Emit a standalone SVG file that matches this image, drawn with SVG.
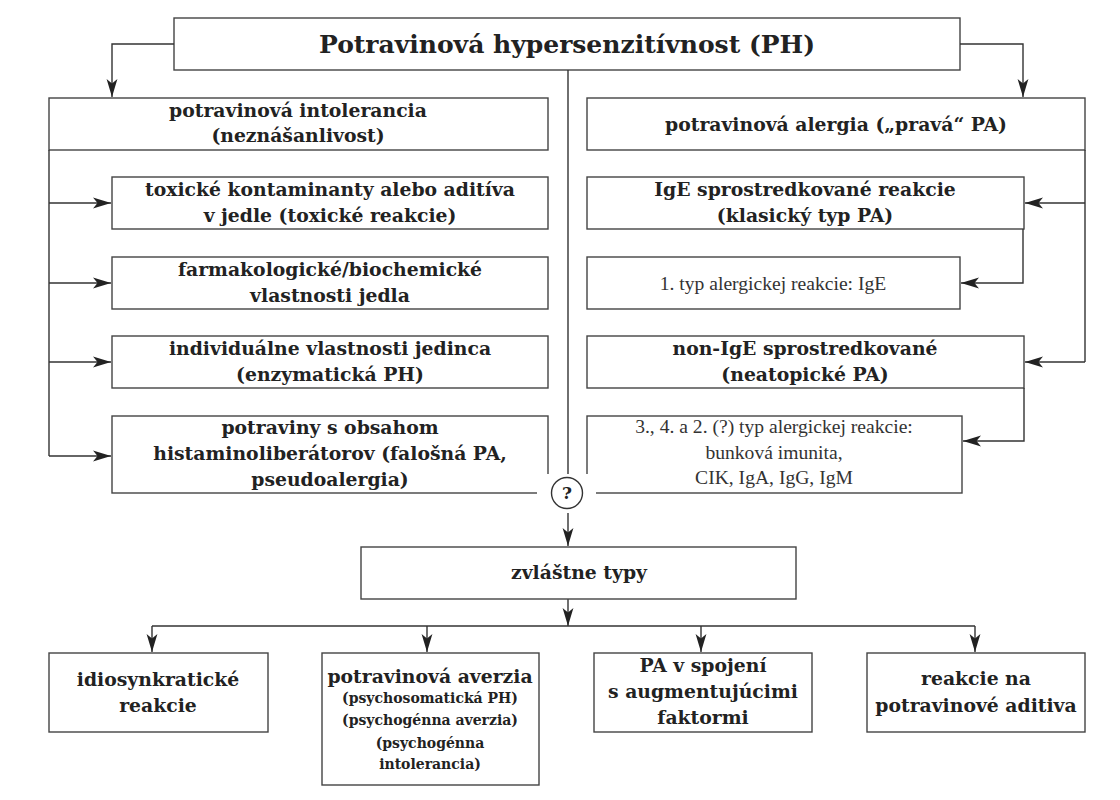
<svg xmlns="http://www.w3.org/2000/svg" width="1120" height="800" viewBox="0 0 1120 800">
<style>
.box{fill:#fff;stroke:#444;stroke-width:1.4}
.ln{fill:none;stroke:#333;stroke-width:1.4}
.b{font-family:"DejaVu Serif","Liberation Serif",serif;font-weight:bold;font-size:18.8px;fill:#222;text-anchor:middle}
.t{font-family:"DejaVu Serif","Liberation Serif",serif;font-weight:bold;font-size:25px;fill:#222;text-anchor:middle}
.s{font-family:"DejaVu Serif","Liberation Serif",serif;font-weight:bold;font-size:14px;fill:#222;text-anchor:middle}
.r{font-family:"Liberation Serif","DejaVu Serif",serif;font-size:19.6px;fill:#333;text-anchor:middle}
</style>
<defs>
<marker id="ah" markerUnits="userSpaceOnUse" markerWidth="19" markerHeight="12" refX="18" refY="6" orient="auto">
<path d="M0,0.6 L18,6 L0,11.4 L4.5,6 z" fill="#222"/>
</marker>
</defs>

<g id="n-root"><rect class="box" x="174" y="18" width="786" height="52"/><text class="t" x="567" y="53">Potravinová hypersenzitívnost (PH)</text></g>

<g id="n-intol"><rect class="box" x="49" y="98" width="499" height="52"/><text class="b" x="298" y="117">potravinová intolerancia</text><text class="b" x="298" y="142">(neznášanlivost)</text></g>
<g id="n-tox"><rect class="box" x="112" y="177" width="436" height="52"/><text class="b" x="330" y="196">toxické kontaminanty alebo aditíva</text><text class="b" x="330" y="222">v jedle (toxické reakcie)</text></g>
<g id="n-farm"><rect class="box" x="112" y="257" width="436" height="52"/><text class="b" x="330" y="276">farmakologické/biochemické</text><text class="b" x="330" y="302">vlastnosti jedla</text></g>
<g id="n-ind"><rect class="box" x="112" y="336" width="436" height="52"/><text class="b" x="330" y="355">individuálne vlastnosti jedinca</text><text class="b" x="330" y="381">(enzymatická PH)</text></g>
<g id="n-hist"><rect class="box" x="112" y="416" width="436" height="77"/><text class="b" x="330" y="434">potraviny s obsahom</text><text class="b" x="330" y="460">histaminoliberátorov (falošná PA,</text><text class="b" x="330" y="486">pseudoalergia)</text></g>

<g id="n-alerg"><rect class="box" x="587" y="98" width="498" height="52"/><text class="b" x="836" y="131">potravinová alergia („pravá“ PA)</text></g>
<g id="n-ige"><rect class="box" x="587" y="177" width="437" height="52"/><text class="b" x="805" y="196">IgE sprostredkované reakcie</text><text class="b" x="805" y="222">(klasický typ PA)</text></g>
<g id="n-typ1"><rect class="box" x="587" y="257" width="373" height="52"/><text class="r" x="773" y="290">1. typ alergickej reakcie: IgE</text></g>
<g id="n-nonige"><rect class="box" x="587" y="336" width="437" height="52"/><text class="b" x="805" y="355">non-IgE sprostredkované</text><text class="b" x="805" y="381">(neatopické PA)</text></g>
<g id="n-typ34"><rect class="box" x="587" y="416" width="375" height="77"/><text class="r" x="774" y="433">3., 4. a 2. (?) typ alergickej reakcie:</text><text class="r" x="774" y="459">bunková imunita,</text><text class="r" x="774" y="484">CIK, IgA, IgG, IgM</text></g>

<g id="connectors">
<path class="ln" d="M174,44 H112 V97" marker-end="url(#ah)"/>
<path class="ln" d="M960,44 H1023 V97" marker-end="url(#ah)"/>
<path class="ln" d="M568,70 V474"/>
<path class="ln" d="M49,150 V456"/>
<path class="ln" d="M49,203 H111" marker-end="url(#ah)"/>
<path class="ln" d="M49,283 H111" marker-end="url(#ah)"/>
<path class="ln" d="M49,362 H111" marker-end="url(#ah)"/>
<path class="ln" d="M49,456 H111" marker-end="url(#ah)"/>
<path class="ln" d="M1085,150 V362"/>
<path class="ln" d="M1085,203 H1025" marker-end="url(#ah)"/>
<path class="ln" d="M1085,362 H1025" marker-end="url(#ah)"/>
<path class="ln" d="M1023,229 V283 H961" marker-end="url(#ah)"/>
<path class="ln" d="M1024,388 V441 H963" marker-end="url(#ah)"/>
<path class="ln" d="M568,513 V546" marker-end="url(#ah)"/>
<path class="ln" d="M568,599 V626" marker-end="url(#ah)"/>
<path class="ln" d="M152,626 H975"/>
<path class="ln" d="M152,626 V652" marker-end="url(#ah)"/>
<path class="ln" d="M427,626 V652" marker-end="url(#ah)"/>
<path class="ln" d="M701,626 V652" marker-end="url(#ah)"/>
<path class="ln" d="M975,626 V652" marker-end="url(#ah)"/>
</g>

<g id="n-q"><rect x="537" y="474" width="59" height="26" fill="#fff"/><circle cx="567" cy="493" r="15.5" fill="#fff" stroke="#333" stroke-width="1.4"/><text class="b" x="567" y="499" style="font-size:17px">?</text></g>

<g id="n-zvl"><rect class="box" x="361" y="547" width="435" height="52"/><text class="b" x="579" y="579">zvláštne typy</text></g>

<g id="n-idio"><rect class="box" x="49" y="653" width="219" height="79"/><text class="b" x="158" y="686">idiosynkratické</text><text class="b" x="158" y="712">reakcie</text></g>
<g id="n-aver"><rect class="box" x="322" y="653" width="217" height="132"/><text class="b" x="430" y="683">potravinová averzia</text><text class="s" x="430" y="703">(psychosomatická PH)</text><text class="s" x="430" y="725">(psychogénna averzia)</text><text class="s" x="430" y="748">(psychogénna</text><text class="s" x="430" y="769">intolerancia)</text></g>
<g id="n-aug"><rect class="box" x="594" y="653" width="218" height="79"/><text class="b" x="703" y="672">PA v spojení</text><text class="b" x="703" y="698">s augmentujúcimi</text><text class="b" x="703" y="724">faktormi</text></g>
<g id="n-adit"><rect class="box" x="867" y="653" width="218" height="79"/><text class="b" x="976" y="685">reakcie na</text><text class="b" x="976" y="712">potravinové aditiva</text></g>
</svg>
